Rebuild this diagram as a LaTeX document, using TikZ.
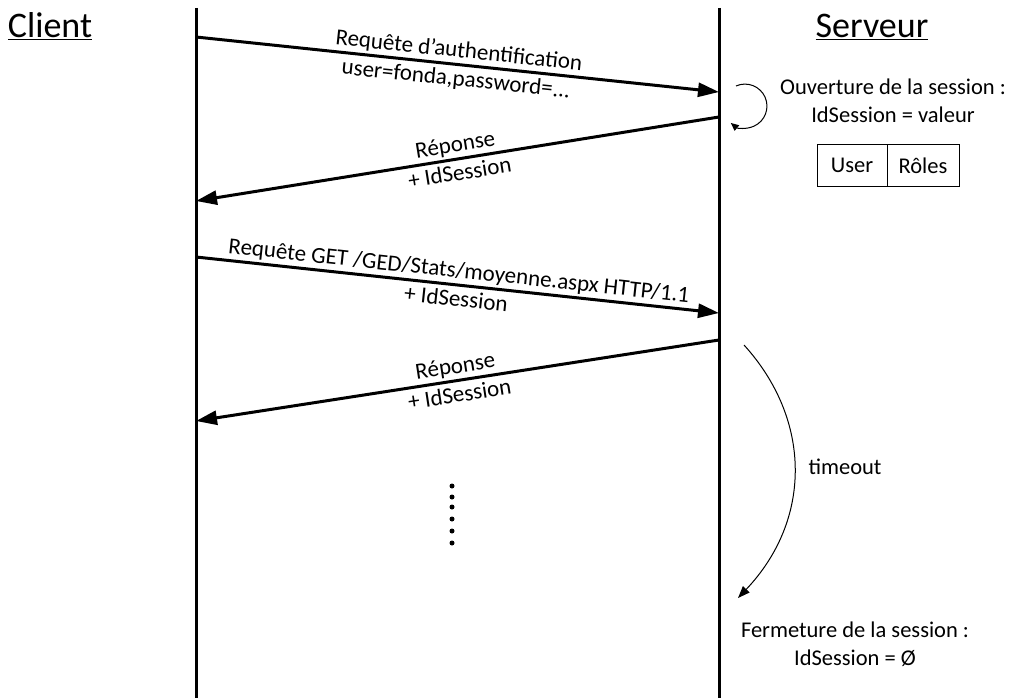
\documentclass[tikz,border=0pt]{standalone}
\usepackage{fontspec}
\setmainfont{Carlito}
\usetikzlibrary{arrows.meta}
\begin{document}
\begin{tikzpicture}[x=1pt,y=-1pt,
  lifeline/.style={line width=3pt},
  msg/.style={line width=3pt,-{Triangle[length=21pt,width=14pt]}},
  msgtext/.style={sloped,inner sep=0pt,font=\fontsize{23}{26}\selectfont},
  upper/.style={msgtext,above=2pt},
  lower/.style={msgtext,below=4pt},
  note/.style={align=center,inner sep=0pt,font=\fontsize{22.5}{28}\selectfont},
  heading/.style={anchor=base,inner sep=0pt,font=\fontsize{36}{40}\selectfont},
  thinarrow/.style={line width=1pt},
  cell/.style={draw,line width=1pt,minimum height=41pt,inner sep=0pt,font=\fontsize{22.5}{26}\selectfont},
  dot/.style={circle,fill,inner sep=0pt,minimum size=5pt}]
\useasboundingbox (0,0) rectangle (1017,698);

% headings
\node[heading] (client) at (50,38) {\underline{Client}};
\node[heading] (serveur) at (872,38) {\underline{Serveur}};

% lifelines
\coordinate (ctop) at (196,8);
\coordinate (cbot) at (196,700);
\coordinate (stop) at (719,8);
\coordinate (sbot) at (719,700);
\draw[lifeline] (ctop) -- (cbot);
\draw[lifeline] (stop) -- (sbot);

% message end points
\coordinate (c1) at (196,37);
\coordinate (s1) at (719,92);
\coordinate (s2) at (719,117);
\coordinate (c2) at (196,201);
\coordinate (c3) at (196,257);
\coordinate (s3) at (719,313);
\coordinate (s4) at (719,340);
\coordinate (c4) at (196,421);

% messages
\draw[msg] (c1) -- node[upper] (l1a) {Requête d’authentification}
                   node[lower] (l1b) {user=fonda,password=...} (s1);
\draw[msg] (s2) -- node[upper] (l2a) {Réponse}
                   node[lower] (l2b) {+ IdSession} (c2);
\draw[msg] (c3) -- node[upper] (l3a) {Requête GET /GED/Stats/moyenne.aspx HTTP/1.1}
                   node[lower] (l3b) {+ IdSession} (s3);
\draw[msg] (s4) -- node[upper] (l4a) {Réponse}
                   node[lower] (l4b) {+ IdSession} (c4);

% session opening
\coordinate (loopstart) at (736,86);
\draw[thinarrow,-{Triangle[length=8pt,width=7pt]}] (loopstart) arc[start angle=-114,end angle=130,radius=22];
\node[note] (open) at (893,101) {Ouverture de la session :\\IdSession = valeur};
\node[cell,minimum width=70pt] (user) at (852,165.5) {User};
\node[cell,minimum width=72pt] (roles) at (923,165.5) {Rôles};

% timeout
\coordinate (tstart) at (744,345);
\coordinate (tend) at (738,598);
\draw[thinarrow,-{Triangle[length=12pt,width=9pt]}] (tstart) .. controls (812,420) and (812,520) .. (tend);
\node[note] (timeout) at (845,467) {timeout};
\node[note] (close) at (855,644) {Fermeture de la session :\\IdSession = Ø};

% ellipsis dots
\node[dot] (d1) at (452,486) {};
\node[dot] (d2) at (452,497) {};
\node[dot] (d3) at (452,507) {};
\node[dot] (d4) at (452,519) {};
\node[dot] (d5) at (452,531) {};
\node[dot] (d6) at (452,543) {};
\end{tikzpicture}
\end{document}
